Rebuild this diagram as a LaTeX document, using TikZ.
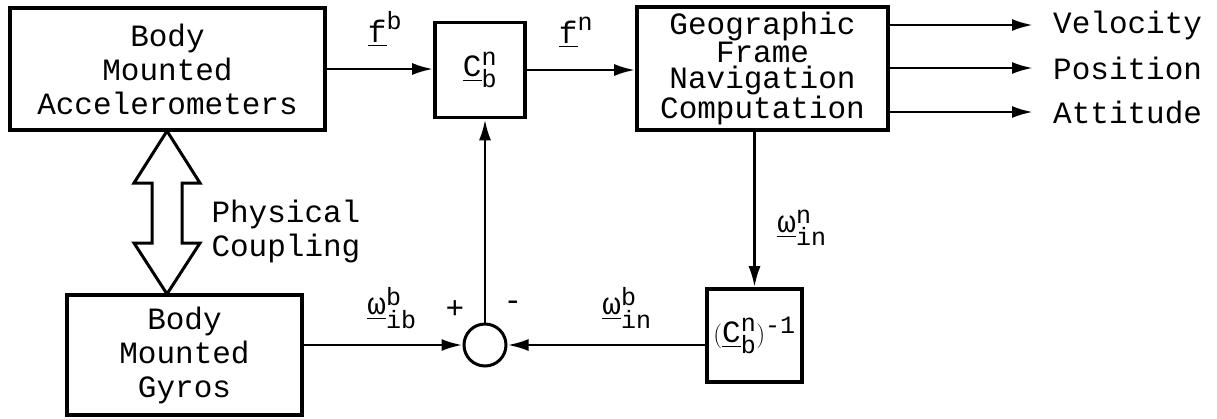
\documentclass[tikz,border=0pt]{standalone}
\usepackage{amsmath}
\usepackage{fontspec}
\setmainfont{Liberation Mono}
\DeclareMathSizes{31}{31}{25}{20}
\usetikzlibrary{arrows.meta}
\tikzset{
  blk/.style={draw,line width=3.6pt,align=center,inner sep=0pt},
  sig/.style={line width=2.8pt,-{Latex[length=21pt,width=12pt]}},
  big/.style={font=\fontsize{31}{34}\selectfont},
}
\newcommand{\uvec}[3]{$\underline{\text{#1}}^{\text{#2}}_{\text{#3}}$}

\begin{document}
\begin{tikzpicture}[x=1pt,y=-1pt,big]
\useasboundingbox (0,0) rectangle (1217,418);

\node[blk,minimum width=315,minimum height=122] (acc) at (167.5,69)
    {Body\\Mounted\\Accelerometers};
\node[blk,minimum width=90,minimum height=95] (cbn) at (480,70)
    {\uvec{C}{n}{b}};
\node[blk,minimum width=251,minimum height=123,
      font=\fontsize{31}{26}\selectfont] (geo) at (762.5,68.5)
    {Geographic\\Frame\\Navigation\\Computation};
\node[blk,minimum width=235,minimum height=120] (gyro) at (184.5,355)
    {Body\\Mounted\\Gyros};
\node[blk,minimum width=95,minimum height=93] (inv) at (754.5,335.5)
    {$(\underline{\text{C}}^{\text{n}}_{\text{b}})^{\text{-1}}$};
\node[draw,circle,line width=3pt,minimum size=42,inner sep=0pt] (sum)
    at (485,345) {};

\draw[sig] (acc.east) -- (acc.east -| cbn.west);
\draw[sig] (cbn.east) -- (cbn.east -| geo.west);
\node (fb) at (385,30) {\uvec{f}{b}{}};
\node (fn) at (576,33) {\uvec{f}{n}{}};

\foreach \y/\lab/\nm in {25/Velocity/vel,68/Position/pos,112/Attitude/att}{
    \node[anchor=west,inner sep=0pt] (\nm) at (1053,\y) {\lab};
    \draw[sig,shorten >=20pt] (\nm.west -| geo.east) -- (\nm.west);
}

\draw[sig] (geo.south -| inv.north) -- (inv.north);
\node (win) at (802,228) {\uvec{ω}{n}{in}};

\draw[sig] (sum.east -| inv.west) -- (sum.east);
\node (wbn) at (627,308) {\uvec{ω}{b}{in}};
\draw[sig] (sum.west -| gyro.east) -- (sum.west);
\node (wib) at (392,308) {\uvec{ω}{b}{ib}};
\draw[sig] (sum.north) -- (sum.north |- cbn.south);
\node (plus) at (455,310) {+};
\node (minus) at (513,306) {-};

\draw[line width=3pt,line join=miter]
    (167,131) -- (200,183) -- (182,183) -- (182,243) -- (200,243)
    -- (167,294) -- (134,243) -- (152,243) -- (152,183) -- (134,183) -- cycle;
\node[anchor=north west,align=left] (phys)
    at (208,196) {Physical\\Coupling};
\end{tikzpicture}
\end{document}
